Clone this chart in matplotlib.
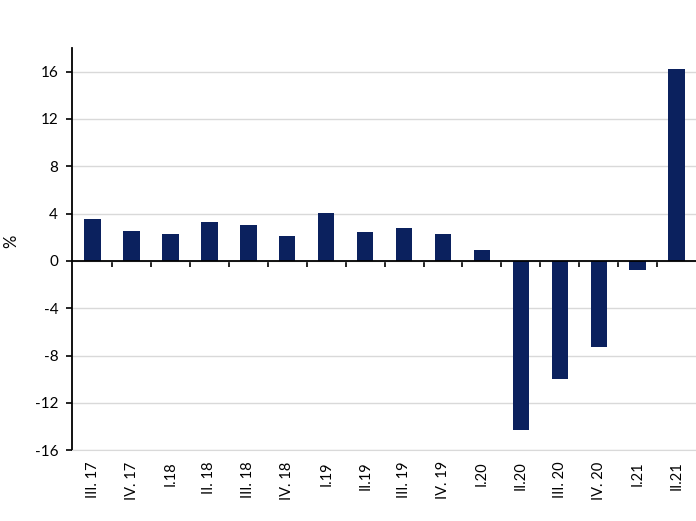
import matplotlib.pyplot as plt
import numpy as np

quarters = ["III. 17", "IV. 17", "I.18", "II. 18", "III. 18", "IV. 18", "I.19", "II.19",
            "III. 19", "IV. 19", "I.20", "II.20", "III. 20", "IV. 20", "I.21", "II.21"]
values = [3.5, 2.5, 2.3, 3.3, 3.0, 2.1, 4.05, 2.4,
          2.8, 2.3, 0.9, -14.3, -10.0, -7.3, -0.8, 16.2]

def main():
    plt.rcParams['font.family'] = ['Lato', 'DejaVu Sans']
    plt.rcParams['axes.unicode_minus'] = False
    fig = plt.figure(figsize=(6.96, 5.21), dpi=100)
    ax = fig.add_axes([0.1035, 0.136, 0.8965, 0.772])

    x = np.arange(len(quarters))
    ax.bar(x, values, width=0.42, color='#0b215e', zorder=3)

    ax.set_xlim(-0.53, len(quarters) - 0.5)
    ax.set_ylim(-16, 18)
    ax.set_yticks(np.arange(-16, 17, 4))
    ax.yaxis.grid(True, color='#d9d9d9', lw=1.0, zorder=0)
    ax.tick_params(axis='y', direction='out', length=4, width=1.2,
                   labelsize=11, colors='black', pad=6)
    ax.tick_params(axis='x', length=0, labelsize=10.5, pad=8)
    ax.set_xticks(x)
    ax.set_xticklabels(quarters, rotation=90, va='top', ha='center')

    ax.spines['top'].set_visible(False)
    ax.spines['right'].set_visible(False)
    ax.spines['left'].set_linewidth(1.3)
    ax.spines['bottom'].set_color('#d9d9d9')

    # zero line with category boundary ticks
    ax.axhline(0, color='black', lw=1.3, zorder=4)
    sec = ax.secondary_xaxis(16 / 34)
    sec.set_xticks(x[:-1] + 0.5)
    sec.set_xticklabels([])
    sec.tick_params(direction='out', length=4, width=1.2)
    sec.spines['bottom'].set_visible(False)

    ax.set_ylabel('%', fontsize=12)
    ax.yaxis.set_label_coords(-0.085, 0.52)

    fig.savefig('out.png', dpi=100)
    plt.close(fig)

if __name__ == "__main__":
    main()
